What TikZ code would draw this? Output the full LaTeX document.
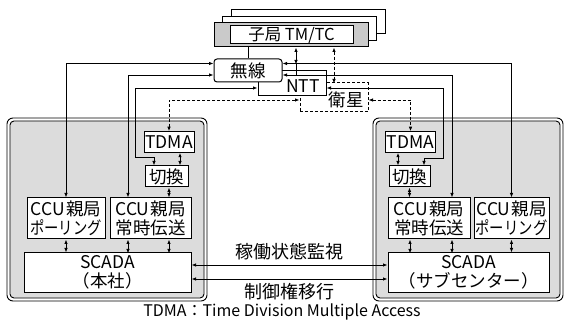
\documentclass[tikz,border=0pt]{standalone}
\usepackage{fontspec}
\setmainfont{Noto Sans CJK JP}
\usepackage{graphicx}
\usetikzlibrary{arrows.meta, positioning, calc}
\definecolor{mPanel}{HTML}{DCDCDC}
\definecolor{mBand}{HTML}{CACACA}
\newcommand\squeeze[1]{\scalebox{0.82}[1]{#1}}

\begin{document}
\begin{tikzpicture}[x=1pt, y=-1pt,
    txt/.style={font=\fontsize{17.5}{19.5}\selectfont},
    box/.style={draw, fill=white, line width=1pt, inner sep=1pt, align=center, txt},
    both/.style={line width=0.9pt, {Latex[length=4.5pt,width=3.5pt]}-{Latex[length=4.5pt,width=3.5pt]}},
    dboth/.style={both, dash pattern=on 3pt off 2pt},
    link/.style={line width=0.9pt}]
    \useasboundingbox (0,0) rectangle (565,323);
    % panels
    \foreach \xa/\xb in {7/207, 373/563} {
      \draw[line width=0.9pt, rounded corners=6pt, fill=white] (\xa,118) rectangle (\xb,301);
      \draw[line width=0.9pt, rounded corners=4pt, fill=mPanel] (\xa+3,121) rectangle (\xb-3,298);
    }
    % sub stations
    \foreach \d in {2,1}
      \draw[line width=1pt, fill=white] (214+\d*8.5, 23-\d*6.5) rectangle ++(154,24);
    \node[box, fill=mBand, minimum width=154pt, minimum height=24pt] (subo) at (291,35) {};
    \node[box, inner sep=0.5pt, minimum width=123pt, minimum height=18pt,
      font=\fontsize{16.5}{18}\selectfont] (sub) at (291.5,35) {子局 TM/TC};
    % links
    \node[box, dash pattern=on 3pt off 2pt, minimum width=68pt, minimum height=29pt,
      label={[txt, xshift=12pt, yshift=-2.5pt]center:衛星}] (eisei) at (334,97.5) {};
    \node[box, minimum width=68pt, minimum height=25pt,
      label={[txt, xshift=11pt, yshift=-2.5pt]center:NTT}] (ntt) at (292,83.5) {};
    \node[box, rounded corners=3pt, minimum width=68pt, minimum height=23pt] (musen) at (248,70.5) {無線};
    % head office
    \node[box, minimum width=50pt, minimum height=20.5pt] (tdmaL) at (169,142) {TDMA};
    \node[box, minimum width=43pt, minimum height=21pt] (kiriL) at (166.5,176.5) {切換};
    \node[box, minimum width=78pt, minimum height=41pt] (pollL) at (66,218.5) {CCU\kern1pt 親局\\\squeeze{ポーリング}};
    \node[box, minimum width=81pt, minimum height=41pt] (constL) at (150.5,218.5) {CCU\kern1pt 親局\\常時伝送};
    \node[box, minimum width=167pt, minimum height=39pt] (scadaL) at (107.5,272.5) {SCADA\\（本社）};
    % sub center
    \node[box, minimum width=47pt, minimum height=20.5pt] (tdmaR) at (410.5,142) {TDMA};
    \node[box, minimum width=41pt, minimum height=21pt] (kiriR) at (409.5,176.5) {切換};
    \node[box, minimum width=82pt, minimum height=41pt] (constR) at (429,218.5) {CCU\kern1pt 親局\\常時伝送};
    \node[box, minimum width=75pt, minimum height=41pt] (pollR) at (511.5,218.5) {CCU\kern1pt 親局\\\squeeze{ポーリング}};
    \node[box, minimum width=161pt, minimum height=39pt] (scadaR) at (468.5,272.5) {SCADA\\（サブセンター）};
    \coordinate (bendL) at (135,157);
    \coordinate (bendR) at (443,158);
    % top connectors
    \draw[link] (musen.north) -- (musen.north |- subo.south);
    \draw[both] ($(subo.south)+(5,0)$) -- ++(0,17);
    \draw[link] ($(subo.south)+(5,17)$) -- ++(0,11);
    \draw[dboth] ($(subo.south)+(43,0)$) -- ++(0,36);
    % left connectors
    \draw[both] (pollL.north) |- ($(musen.west)+(0,-7)$);
    \draw[both] ($(constL.north)+(-22.5,0)$) |- ($(musen.west)+(0,4.5)$);
    \draw[both] ($(ntt.west)+(0,4.5)$) -| (bendL) -| ($(kiriL.north)+(-12.5,0)$);
    \draw[dboth] ($(eisei.west)+(0,2.5)$) -| (tdmaL.north);
    \draw[both] ($(tdmaL.south)+(11,0)$) -- ($(kiriL.north)+(13.5,0)$);
    \draw[both] ($(kiriL.south)+(2.5,0)$) -- ($(constL.north)+(18.5,0)$);
    \draw[both] (pollL.south) -- (pollL.south |- scadaL.north);
    \draw[both] ($(constL.south)+(-22.5,0)$) -- ++(0,14);
    \draw[both] ($(constL.south)+(18.5,0)$) -- ++(0,14);
    % right connectors
    \draw[both] (pollR.north) |- ($(musen.east)+(0,-7)$);
    \draw[both] ($(constR.north)+(23,0)$) |- ($(musen.east)+(0,4.5)$);
    \draw[both] ($(ntt.east)+(0,4.5)$) -| (bendR) -| ($(kiriR.north)+(14.5,0)$);
    \draw[dboth] ($(eisei.east)+(0,2.5)$) -| (tdmaR.north);
    \draw[both] ($(tdmaR.south)+(-12.5,0)$) -- ($(kiriR.north)+(-11.5,0)$);
    \draw[both] (kiriR.south) -- (kiriR.south |- constR.north);
    \draw[both] ($(constR.south)+(-19,0)$) -- ++(0,14);
    \draw[both] ($(constR.south)+(23,0)$) -- ++(0,14);
    \draw[both] (pollR.south) -- (pollR.south |- scadaR.north);
    % between SCADA
    \draw[both] ($(scadaL.east)+(0,-7.5)$) -- node[above=1pt, font=\fontsize{18}{20}\selectfont] (watch) {稼働状態監視}
      ($(scadaR.west)+(0,-7.5)$);
    \draw[both] ($(scadaL.east)+(0,6.5)$) -- node[below=1pt, font=\fontsize{18}{20}\selectfont] (handover) {制御権移行}
      ($(scadaR.west)+(0,6.5)$);
    \node[font=\fontsize{16}{18}\selectfont] (note) at (282,312) {TDMA：Time Division Multiple Access};
\end{tikzpicture}
\end{document}
